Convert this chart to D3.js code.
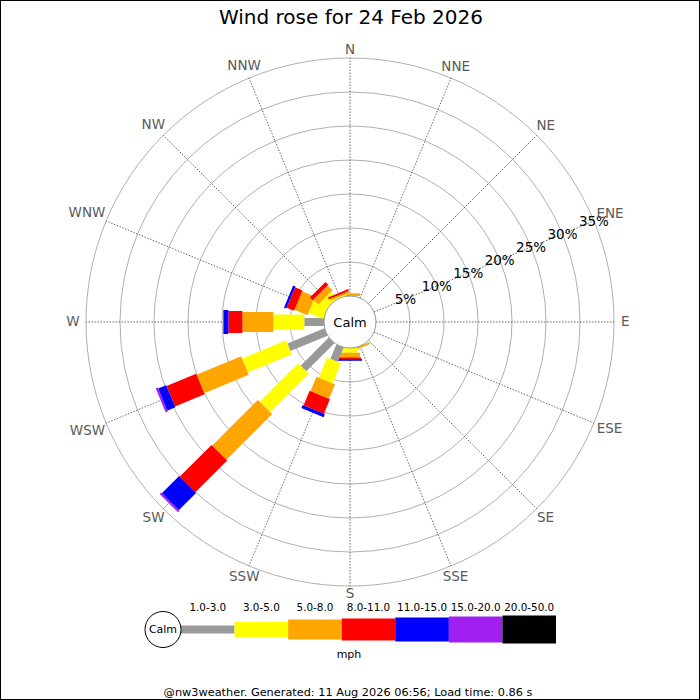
<!DOCTYPE html>
<html>
<head>
<meta charset="utf-8">
<script src="https://cdn.jsdelivr.net/npm/d3@7"></script>
<style>
  html, body { margin: 0; padding: 0; background: #fff; }
  svg { display: block; font-family: "DejaVu Sans", sans-serif; }
</style>
</head>
<body>
<svg id="chart" width="700" height="700"></svg>
<script>
// ---- data ----
const directions = ["N","NNE","NE","ENE","E","ESE","SE","SSE","S","SSW","SW","WSW","W","WNW","NW","NNW"];
const speedClasses = ["1.0-3.0","3.0-5.0","5.0-8.0","8.0-11.0","11.0-15.0","15.0-20.0","20.0-50.0"];
const classColors = ["#999999","#ffff00","#ffa500","#ff0000","#0000ff","#a020f0","#000000"];
// percent of time per direction, for each speed class
const pctCalmTo3 = [0,0,0,0,0,0,0,0,0,2.3,5.85,5.9,2.9,0,0,0];
const pct3to5    = [0,0,0,0,0,0,0,0,0.7,3.2,8.0,7.0,4.55,2.35,1.3,0.2];
const pct5to8    = [0.4,0,0,0,0,0,0,0.3,0.68,2.3,9.5,7.1,4.55,2.06,1.0,0.25];
const pct8to11   = [0,0,0,0,0,0,0,0,0.25,2.3,6.6,4.7,2.06,1.18,0.6,0.3];
const pct11to15  = [0,0,0,0,0,0,0,0,0.25,0.5,3.6,1.3,0.74,0.37,0,0];
const pct15to20  = [0,0,0,0,0,0,0,0,0,0,0.3,0.3,0,0,0,0];
const pct20to50  = [0,0,0,0,0,0,0,0,0,0,0,0,0,0,0,0];
const ringTicks = [5,10,15,20,25,30,35];
const titleText = "Wind rose for 24 Feb 2026";
const unitText = "mph";
const calmText = "Calm";
const footerText = "@nw3weather. Generated: 11 Aug 2026 06:56; Load time: 0.86 s";

const seriesList = [pctCalmTo3, pct3to5, pct5to8, pct8to11, pct11to15, pct15to20, pct20to50];

// ---- layout ----
const svg = d3.select("#chart");
const W = 700, H = 700;
const cx = 350, cy = 322;
const calmR = 26;
const barWidths = [8, 15, 20, 22, 24, 26, 28];

svg.append("rect").attr("x",0.5).attr("y",0.5).attr("width",W-1).attr("height",H-1)
  .attr("fill","#fff").attr("stroke","#000").attr("stroke-width",1);

const r = d3.scaleLinear().domain([0, 35]).range([calmR, 264]);
const angle = d3.scalePoint().domain(directions).range([0, 360 - 22.5]);

const g = svg.append("g").attr("transform", `translate(${cx},${cy})`);

// rings
g.selectAll("circle.ring").data(ringTicks).join("circle")
  .attr("class","ring").attr("r", d => r(d))
  .attr("fill","none").attr("stroke","#b0b0b0").attr("stroke-width",1);

// spokes
g.selectAll("line.spoke").data(directions).join("line")
  .attr("class","spoke")
  .attr("x1", d => calmR * Math.sin(angle(d)*Math.PI/180))
  .attr("y1", d => -calmR * Math.cos(angle(d)*Math.PI/180))
  .attr("x2", d => r(35) * Math.sin(angle(d)*Math.PI/180))
  .attr("y2", d => -r(35) * Math.cos(angle(d)*Math.PI/180))
  .attr("stroke","#444").attr("stroke-width",0.8).attr("stroke-dasharray","1.5,1.5");

// bars
directions.forEach((dir, i) => {
  const bg = g.append("g").attr("transform", `rotate(${angle(dir)})`);
  let cum = 0;
  seriesList.forEach((series, k) => {
    const v = series[i];
    if (v > 0) {
      const r1 = r(cum), r2 = r(cum + v);
      bg.append("rect")
        .attr("x", -barWidths[k]/2).attr("width", barWidths[k])
        .attr("y", -r2).attr("height", r2 - r1)
        .attr("fill", classColors[k]);
    }
    cum += v;
  });
});

// calm circle
g.append("circle").attr("r", calmR).attr("fill","#fff").attr("stroke","#999").attr("stroke-width",1);
g.append("text").attr("text-anchor","middle").attr("dominant-baseline","central")
  .attr("font-size",13).attr("fill","#000").text(calmText);

// ring labels along ENE
const lblAng = angle("ENE") * Math.PI/180;
g.selectAll("text.ringlbl").data(ringTicks).join("text")
  .attr("class","ringlbl")
  .attr("x", d => r(d) * Math.sin(lblAng))
  .attr("y", d => -r(d) * Math.cos(lblAng))
  .attr("text-anchor","middle").attr("dominant-baseline","central")
  .attr("font-size",13.5).attr("fill","#000")
  .text(d => d + "%");

// direction labels
const dl = g.selectAll("text.dir").data(directions).join("text")
  .attr("class","dir")
  .attr("text-anchor","middle").attr("dominant-baseline","central")
  .attr("font-size",13.5).attr("fill","#5a5a5a")
  .text(d => d);
dl.each(function(d) {
  const w = this.getComputedTextLength();
  const a = angle(d) * Math.PI/180;
  const R = 272 + (w/2) * Math.abs(Math.sin(a)) * 0.75;
  d3.select(this).attr("x", R*Math.sin(a)).attr("y", -R*Math.cos(a) - 1);
});

// title
svg.append("text").attr("x", 351).attr("y", 17).attr("text-anchor","middle")
  .attr("dominant-baseline","central").attr("font-size",20).attr("fill","#000").text(titleText);

// legend
const legY = 629.5;
const legX = d3.scaleBand().domain(speedClasses).range([181, 556]).padding(0);
const lg = svg.append("g");
lg.selectAll("rect.leg").data(speedClasses).join("rect")
  .attr("class","leg")
  .attr("x", d => legX(d)).attr("width", legX.bandwidth())
  .attr("y", (d,i) => legY - barWidths[i]/2).attr("height", (d,i) => barWidths[i])
  .attr("fill", (d,i) => classColors[i]);
lg.selectAll("text.leg").data(speedClasses).join("text")
  .attr("class","leg")
  .attr("x", d => legX(d) + legX.bandwidth()/2).attr("y", 607)
  .attr("text-anchor","middle").attr("dominant-baseline","central")
  .attr("font-size",10.4).attr("fill","#000").text(d => d);
lg.append("circle").attr("cx",163).attr("cy",legY).attr("r",18)
  .attr("fill","#fff").attr("stroke","#000").attr("stroke-width",1);
lg.append("text").attr("x",163).attr("y",legY).attr("text-anchor","middle")
  .attr("dominant-baseline","central").attr("font-size",11).attr("fill","#000").text(calmText);
lg.append("text").attr("x",349).attr("y",654).attr("text-anchor","middle")
  .attr("dominant-baseline","central").attr("font-size",11).attr("fill","#000").text(unitText);

// footer
svg.append("text").attr("x",348).attr("y",692).attr("text-anchor","middle")
  .attr("dominant-baseline","central").attr("font-size",11.3).attr("fill","#000").text(footerText);
</script>
</body>
</html>
